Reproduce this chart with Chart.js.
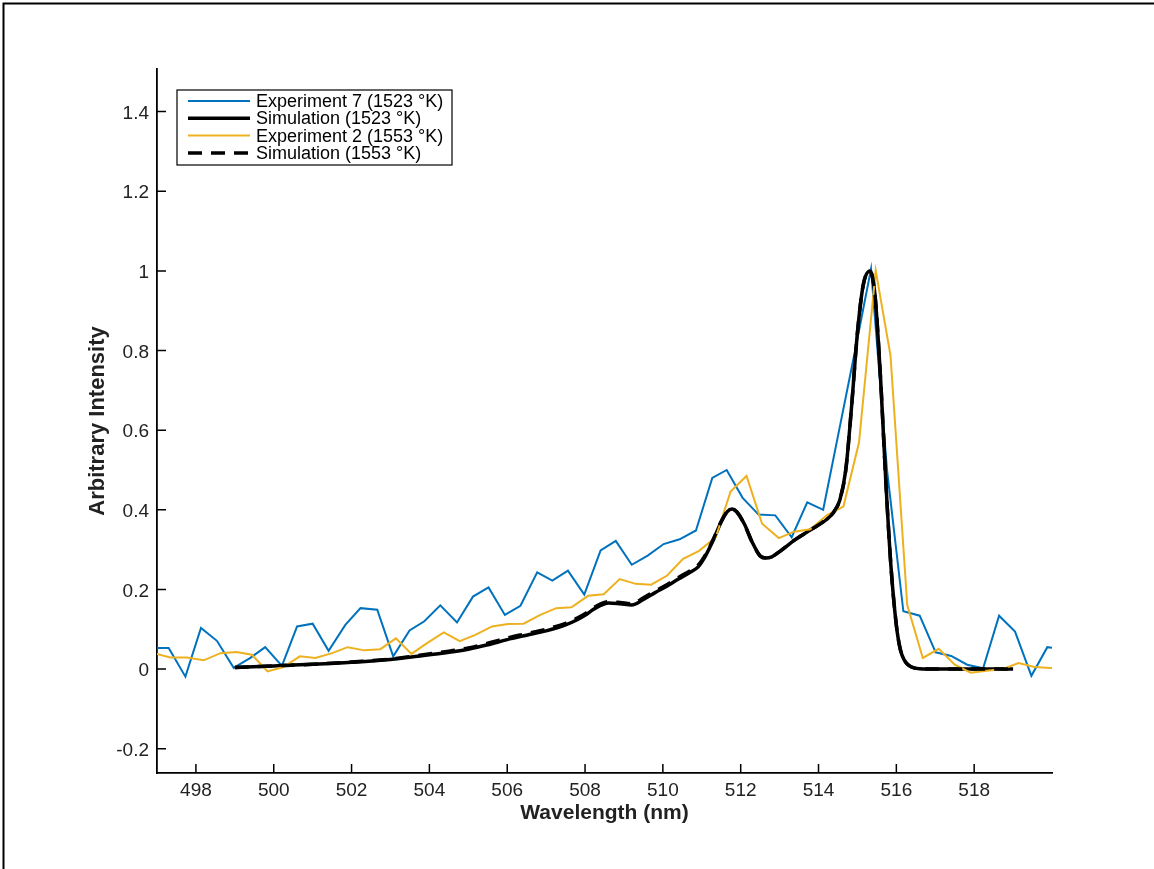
<!DOCTYPE html>
<html>
<head>
<meta charset="utf-8">
<script src="https://cdn.jsdelivr.net/npm/chart.js@4.4.1/dist/chart.umd.min.js"></script>
<style>
  html, body { margin: 0; padding: 0; background: #fff; }
  #wrap { width: 1154px; height: 869px; }
</style>
</head>
<body>
<div id="wrap"><canvas id="spectrum" width="1154" height="869"></canvas></div>
<script>
// Experiment 7 (1523 K)
const blueX = [496.83, 497.30, 497.73, 498.13, 498.54, 498.97, 499.40, 499.78, 500.21, 500.60,
  501.00, 501.41, 501.84, 502.23, 502.66, 503.07, 503.49, 503.87, 504.28, 504.71,
  505.12, 505.52, 505.94, 506.34, 506.77, 507.16, 507.56, 507.98, 508.40, 508.79,
  509.20, 509.61, 510.02, 510.43, 510.85, 511.27, 511.64, 512.05, 512.46, 512.89,
  513.31, 513.71, 514.12, 514.53, 514.94, 515.35, 515.76, 516.18, 516.60, 517.01,
  517.41, 517.82, 518.23, 518.64, 519.05, 519.47, 519.88, 520.29];
const blueY = [0.053, 0.053, -0.019, 0.103, 0.071, 0.003, 0.028, 0.055, 0.008, 0.107,
  0.114, 0.046, 0.111, 0.153, 0.149, 0.032, 0.097, 0.120, 0.160, 0.117,
  0.182, 0.205, 0.136, 0.159, 0.243, 0.222, 0.247, 0.187, 0.298, 0.322,
  0.262, 0.285, 0.314, 0.326, 0.348, 0.480, 0.500, 0.430, 0.388, 0.386,
  0.331, 0.419, 0.400, 0.600, 0.800, 1.005, 0.500, 0.145, 0.134, 0.042,
  0.033, 0.011, 0.002, 0.134, 0.094, -0.017, 0.055, 0.050];

// Experiment 2 (1553 K)
const orangeX = [496.83, 497.34, 497.77, 498.20, 498.63, 499.04, 499.44, 499.84, 500.25, 500.67,
  501.07, 501.50, 501.90, 502.33, 502.74, 503.14, 503.54, 503.94, 504.37, 504.78,
  505.18, 505.61, 506.02, 506.42, 506.85, 507.26, 507.65, 508.08, 508.48, 508.89,
  509.30, 509.70, 510.11, 510.52, 510.93, 511.36, 511.74, 512.15, 512.55, 512.98,
  513.37, 513.79, 514.22, 514.64, 515.04, 515.47, 515.85, 516.28, 516.68, 517.09,
  517.50, 517.91, 518.32, 518.73, 519.14, 519.55, 519.96, 520.37];
const orangeY = [0.042, 0.029, 0.029, 0.022, 0.040, 0.043, 0.036, -0.006, 0.005, 0.032,
  0.028, 0.040, 0.055, 0.047, 0.050, 0.077, 0.038, 0.065, 0.092, 0.070,
  0.086, 0.107, 0.113, 0.114, 0.136, 0.153, 0.155, 0.184, 0.188, 0.226,
  0.214, 0.212, 0.235, 0.277, 0.297, 0.331, 0.446, 0.485, 0.365, 0.329,
  0.345, 0.351, 0.387, 0.408, 0.569, 1.001, 0.787, 0.161, 0.028, 0.051,
  0.011, -0.009, -0.004, 0.000, 0.015, 0.005, 0.003, 0.003];

// Simulations
const simX = [499.0, 500.0, 501.0, 502.0, 503.0, 503.7, 504.5, 505.0, 505.5, 506.0,
  506.5, 507.0, 507.5, 507.8, 508.0, 508.2, 508.4, 508.6, 508.9, 509.2,
  509.5, 509.8, 510.1, 510.4, 510.7, 510.9, 511.1, 511.3, 511.5, 511.65,
  511.78, 511.9, 512.1, 512.3, 512.5, 512.65, 512.8, 513.0, 513.4, 513.8,
  514.2, 514.4, 514.55, 514.7, 514.85, 515.0, 515.15, 515.32, 515.45, 515.6,
  515.73, 515.86, 516.0, 516.1, 516.2, 516.45, 516.8, 517.5, 518.5, 519.0];
const sim1523 = [0.004, 0.008, 0.012, 0.017, 0.024, 0.032, 0.042, 0.050, 0.061, 0.074,
  0.085, 0.096, 0.111, 0.124, 0.135, 0.149, 0.160, 0.166, 0.164, 0.161,
  0.175, 0.192, 0.208, 0.226, 0.243, 0.256, 0.285, 0.325, 0.370, 0.395,
  0.402, 0.395, 0.363, 0.318, 0.284, 0.279, 0.282, 0.295, 0.325, 0.350,
  0.375, 0.395, 0.425, 0.500, 0.660, 0.845, 0.965, 1.000, 0.940, 0.720,
  0.470, 0.260, 0.110, 0.050, 0.023, 0.003, 0.000, 0.000, 0.000, 0.000];
const sim1553 = [0.004, 0.008, 0.012, 0.018, 0.025, 0.034, 0.045, 0.053, 0.065, 0.078,
  0.089, 0.100, 0.115, 0.128, 0.139, 0.153, 0.164, 0.169, 0.167, 0.164,
  0.179, 0.196, 0.212, 0.230, 0.247, 0.260, 0.288, 0.327, 0.371, 0.395,
  0.401, 0.394, 0.362, 0.317, 0.284, 0.279, 0.282, 0.295, 0.325, 0.350,
  0.376, 0.396, 0.426, 0.500, 0.660, 0.845, 0.965, 1.000, 0.940, 0.720,
  0.470, 0.260, 0.110, 0.050, 0.023, 0.003, 0.000, 0.000, 0.000, 0.000];

const xTickValues = [498, 500, 502, 504, 506, 508, 510, 512, 514, 516, 518];
const yTickValues = [-0.2, 0, 0.2, 0.4, 0.6, 0.8, 1.0, 1.2, 1.4];
const seriesLabels = ['Experiment 7 (1523 °K)', 'Simulation (1523 °K)', 'Experiment 2 (1553 °K)', 'Simulation (1553 °K)'];

const BLUE = '#0072BD';
const ORANGE = '#EDB120';
const FONT = '"Liberation Sans", Arial, Helvetica, sans-serif';

function toPoints(xs, ys) {
  return xs.map((x, i) => ({ x: x, y: ys[i] }));
}

// cadre de la figure + petits ticks vers l'intérieur
const figurePlugin = {
  id: 'figure',
  beforeDraw(chart) {
    const c = chart.ctx;
    c.save();
    c.fillStyle = '#fff';
    c.fillRect(0, 0, chart.width, chart.height);
    c.strokeStyle = '#000';
    c.lineWidth = 2;
    c.beginPath();
    c.moveTo(3.5, chart.height);
    c.lineTo(3.5, 3.5);
    c.lineTo(chart.width, 3.5);
    c.stroke();
    c.restore();
  },
  afterDraw(chart) {
    const c = chart.ctx;
    const xs = chart.scales.x, ys = chart.scales.y;
    const area = chart.chartArea;
    c.save();
    c.strokeStyle = '#000';
    c.lineWidth = 1.5;
    c.beginPath();
    xTickValues.forEach(v => {
      const px = xs.getPixelForValue(v);
      c.moveTo(px, area.bottom);
      c.lineTo(px, area.bottom - 9);
    });
    yTickValues.forEach(v => {
      const py = ys.getPixelForValue(v);
      c.moveTo(area.left, py);
      c.lineTo(area.left + 9, py);
    });
    c.stroke();

    // légende
    const bx = 177, by = 90, bw = 275, bh = 75;
    c.fillStyle = '#fff';
    c.fillRect(bx, by, bw, bh);
    c.lineWidth = 1.2;
    c.strokeRect(bx, by, bw, bh);
    c.font = '18px ' + FONT;
    c.textBaseline = 'middle';
    c.textAlign = 'left';
    chart.data.datasets.forEach((ds, i) => {
      const ly = by + 11 + i * 17.3;
      c.save();
      c.strokeStyle = ds.borderColor;
      c.lineWidth = ds.borderWidth;
      c.setLineDash(ds.borderDash || []);
      c.beginPath();
      c.moveTo(188, ly);
      c.lineTo(250, ly);
      c.stroke();
      c.restore();
      c.fillStyle = '#000';
      c.fillText(seriesLabels[i], 256, ly + 1);
    });
    c.restore();
  }
};

const ctx = document.getElementById('spectrum').getContext('2d');

new Chart(ctx, {
  type: 'line',
  data: {
    datasets: [
      {
        label: seriesLabels[0],
        data: toPoints(blueX, blueY),
        borderColor: BLUE,
        borderWidth: 2,
        pointRadius: 0,
        tension: 0,
        order: 4
      },
      {
        label: seriesLabels[1],
        data: toPoints(simX, sim1523),
        borderColor: '#000',
        borderWidth: 3.5,
        pointRadius: 0,
        cubicInterpolationMode: 'monotone',
        order: 3
      },
      {
        label: seriesLabels[2],
        data: toPoints(orangeX, orangeY),
        borderColor: ORANGE,
        borderWidth: 2,
        pointRadius: 0,
        tension: 0,
        order: 2
      },
      {
        label: seriesLabels[3],
        data: toPoints(simX, sim1553),
        borderColor: '#000',
        borderWidth: 3.5,
        borderDash: [14, 9],
        pointRadius: 0,
        cubicInterpolationMode: 'monotone',
        order: 1
      }
    ]
  },
  options: {
    responsive: false,
    animation: false,
    layout: { padding: { left: 0, right: 102, top: 69, bottom: 0 } },
    plugins: {
      legend: { display: false },
      tooltip: { enabled: false }
    },
    scales: {
      x: {
        type: 'linear',
        min: 497,
        max: 520,
        afterFit(scale) { scale.height = 96; },
        afterBuildTicks(scale) { scale.ticks = xTickValues.map(v => ({ value: v })); },
        grid: { display: true, drawOnChartArea: false, drawTicks: false },
        border: { display: true, color: '#000', width: 1.8 },
        ticks: {
          color: '#222',
          padding: 6,
          maxRotation: 0,
          font: { family: FONT, size: 19 },
          callback: v => String(v)
        },
        title: {
          display: true,
          text: 'Wavelength (nm)',
          color: '#222',
          font: { family: FONT, size: 21, weight: 'bold' },
          padding: { top: 0, bottom: 43 }
        }
      },
      y: {
        type: 'linear',
        min: -0.261,
        max: 1.507,
        afterFit(scale) { scale.width = 157; },
        afterBuildTicks(scale) { scale.ticks = yTickValues.map(v => ({ value: v })); },
        grid: { display: true, drawOnChartArea: false, drawTicks: false },
        border: { display: true, color: '#000', width: 1.8 },
        ticks: {
          color: '#222',
          padding: 8,
          labelOffset: 2,
          font: { family: FONT, size: 19 },
          callback: v => String(Math.round(v * 10) / 10)
        },
        title: {
          display: true,
          text: 'Arbitrary Intensity',
          color: '#222',
          font: { family: FONT, size: 22, weight: 'bold' },
          padding: { top: 85, bottom: 0 }
        }
      }
    }
  },
  plugins: [figurePlugin]
});
</script>
</body>
</html>
